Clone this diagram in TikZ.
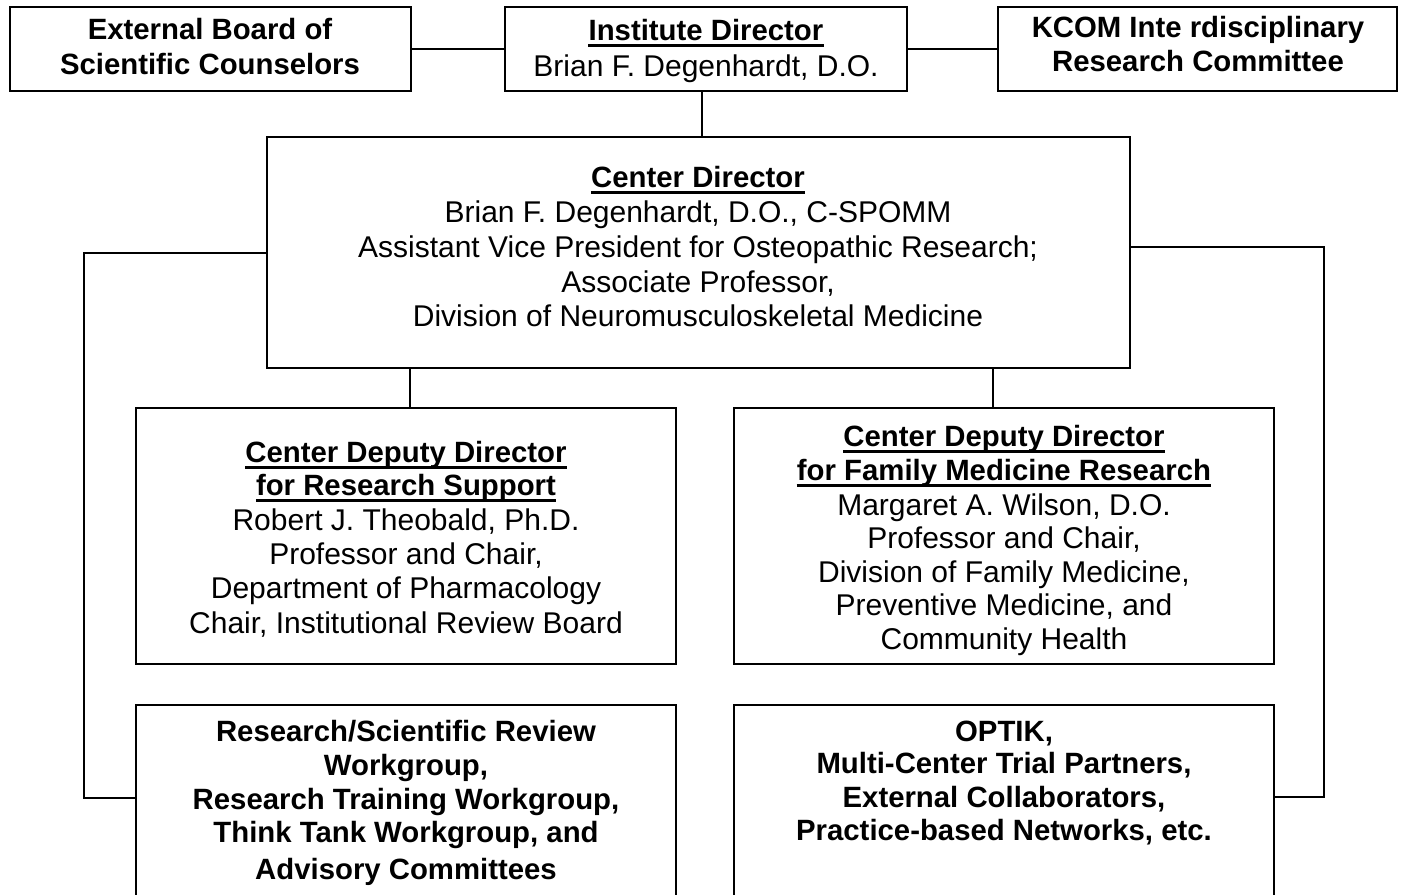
\documentclass[tikz,border=0pt]{standalone}
\usepackage{fontspec}
\setmainfont{Liberation Sans}
\usetikzlibrary{fit}
\begin{document}
\begin{tikzpicture}[x=0.75pt,y=-0.75pt,
  box/.style={draw, line width=1.5pt, inner sep=0pt},
  wire/.style={line width=1.5pt},
  ul/.style={line width=2.1pt},
  t/.style={inner sep=0pt, anchor=base, font=\fontsize{22.5}{27}\selectfont},
  tb/.style={inner sep=0pt, anchor=base, font=\fontsize{22}{27}\selectfont\bfseries}]
\clip (0,0) rectangle (1407,894);
\fill[white] (0,0) rectangle (1407,894);

% boxes
\node[box, fit={(10,7) (411,91)}] (ext) {};
\node[box, fit={(505,7) (907,91)}] (inst) {};
\node[box, fit={(998,7) (1397,91)}] (kcom) {};
\node[box, fit={(267,137) (1130,368)}] (cen) {};
\node[box, fit={(136,408) (676,664)}] (depL) {};
\node[box, fit={(734,408) (1274,664)}] (depR) {};
\node[box, fit={(136,705) (676,960)}] (botL) {};
\node[box, fit={(734,705) (1274,960)}] (botR) {};

% connectors
\draw[wire] (ext.east) -- (inst.west);
\draw[wire] (inst.east) -- (kcom.west);
\draw[wire] ([xshift=-3pt]inst.south) -- ([xshift=-3pt]inst.south |- cen.north);
\draw[wire] ([xshift=3pt]depL.north |- cen.south) -- ([xshift=3pt]depL.north);
\draw[wire] ([xshift=-8.25pt]depR.north |- cen.south) -- ([xshift=-8.25pt]depR.north);
\coordinate (lc) at (84,798);
\coordinate (rc) at (1324,797);
\draw[wire] (cen.west) -| (lc) -- (lc -| botL.west);
\draw[wire] ([yshift=4pt]cen.east) -| (rc) -- (rc -| botR.east);

% top row texts
\node[tb] (e1) at (210,39) {External Board of};
\node[tb] (e2) at (210,74) {Scientific Counselors};
\node[tb] (i1) at (706,40) {Institute Director};
\node[t]  (i2) at (706,76) {Brian F. Degenhardt, D.O.};
\node[tb] (k1) at (1198,37) {KCOM Inte rdisciplinary};
\node[tb] (k2) at (1198,71) {Research Committee};

% center director
\node[tb] (c1) at (698,187) {Center Director};
\node[t]  (c2) at (698,222) {Brian F. Degenhardt, D.O., C-SPOMM};
\node[t]  (c3) at (698,257) {Assistant Vice President for Osteopathic Research;};
\node[t]  (c4) at (698,292) {Associate Professor,};
\node[t]  (c5) at (698,326) {Division of Neuromusculoskeletal Medicine};

% left deputy
\node[tb] (l1) at (406,462) {Center Deputy Director};
\node[tb] (l2) at (406,495) {for Research Support};
\node[t]  (l3) at (406,530) {Robert J. Theobald, Ph.D.};
\node[t]  (l4) at (406,564) {Professor and Chair,};
\node[t]  (l5) at (406,598) {Department of Pharmacology};
\node[t]  (l6) at (406,633) {Chair, Institutional Review Board};

% right deputy
\node[tb] (r1) at (1004,446) {Center Deputy Director};
\node[tb] (r2) at (1004,480) {for Family Medicine Research};
\node[t]  (r3) at (1004,515) {Margaret A. Wilson, D.O.};
\node[t]  (r4) at (1004,548) {Professor and Chair,};
\node[t]  (r5) at (1004,582) {Division of Family Medicine,};
\node[t]  (r6) at (1004,615) {Preventive Medicine, and};
\node[t]  (r7) at (1004,649) {Community Health};

% bottom left
\node[tb] (bl1) at (406,741) {Research/Scientific Review};
\node[tb] (bl2) at (406,775) {Workgroup,};
\node[tb] (bl3) at (406,809) {Research Training Workgroup,};
\node[tb] (bl4) at (406,842) {Think Tank Workgroup, and};
\node[tb] (bl5) at (406,879) {Advisory Committees};

% bottom right
\node[tb] (br1) at (1004,741) {OPTIK,};
\node[tb] (br2) at (1004,773) {Multi-Center Trial Partners,};
\node[tb] (br3) at (1004,807) {External Collaborators,};
\node[tb] (br4) at (1004,840) {Practice-based Networks, etc.};

% underlines
\foreach \n in {i1,c1,l1,l2,r1,r2}
  \draw[ul] ([yshift=-4.3pt]\n.base west) -- ([yshift=-4.3pt]\n.base east);
\end{tikzpicture}
\end{document}
